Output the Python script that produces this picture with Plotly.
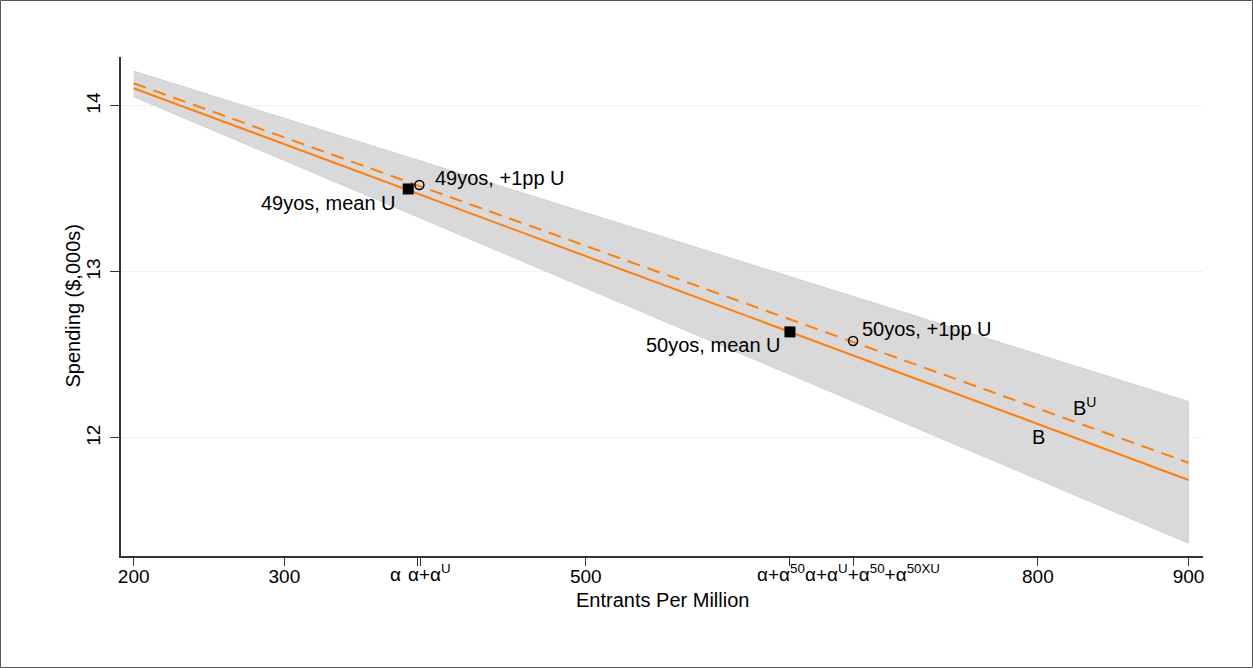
import plotly.graph_objects as go

# ---- data ----
fit_x = [200, 900]
band_hi = [14.21, 12.22]
band_lo = [14.056, 11.366]
fit_mean_u = [14.107, 11.747]      # B
fit_plus_u = [14.137, 11.851]      # B^U

mean_pts_x = [382.2, 635.5]
mean_pts_y = [13.50, 12.639]
mean_pts_lbl = ["49yos, mean U", "50yos, mean U"]
plus_pts_x = [389.6, 677.4]
plus_pts_y = [13.524, 12.584]
plus_pts_lbl = ["49yos, +1pp U", "50yos, +1pp U"]

num_ticks = [200, 300, 500, 800, 900]
num_tick_text = ["200", "300", "500", "800", "900"]
alpha_ticks = [388.3, 390.1, 635.0, 677.7]
alpha_tick_text = ["α", "α+α<sup>U</sup>", "α+α<sup>50</sup>",
                   "α+α<sup>U</sup>+α<sup>50</sup>+α<sup>50XU</sup>"]
alpha_label_x = [373.5, 380.8, 612.3, 644.2]
alpha_label_anchor = ["center", "left", "left", "left"]

y_ticks = [12, 13, 14]

FONT = "Liberation Sans, Arial, Helvetica, sans-serif"
ORANGE = "#ff7f0e"

W, H = 1253, 668
L, R, T, B = 121, 50, 57, 112
PW, PH = W - L - R, H - T - B

fig = go.Figure()

# confidence band
fig.add_trace(go.Scatter(
    x=fit_x + fit_x[::-1], y=band_hi + band_lo[::-1],
    fill="toself", fillcolor="#d9d9d9", mode="lines",
    line=dict(color="#d2d2d2", width=1), hoverinfo="skip", showlegend=False))

fig.add_trace(go.Scatter(x=fit_x, y=fit_mean_u, mode="lines",
                         line=dict(color=ORANGE, width=2), showlegend=False))
fig.add_trace(go.Scatter(x=fit_x, y=fit_plus_u, mode="lines",
                         line=dict(color=ORANGE, width=2, dash="13px,8px"),
                         showlegend=False))

fig.add_trace(go.Scatter(x=mean_pts_x, y=mean_pts_y, mode="markers",
                         marker=dict(symbol="square", size=11, color="black"),
                         showlegend=False))
fig.add_trace(go.Scatter(x=plus_pts_x, y=plus_pts_y, mode="markers",
                         marker=dict(symbol="circle-open", size=9, color="black",
                                     line=dict(width=1.5, color="black")),
                         showlegend=False))

annots = []
tf = dict(family=FONT, size=20, color="black")
# point labels
annots.append(dict(x=375.4, y=13.416, text=mean_pts_lbl[0], xanchor="right", yanchor="middle"))
annots.append(dict(x=631.0, y=12.560, text=mean_pts_lbl[1], xanchor="right", yanchor="middle"))
annots.append(dict(x=398.7, y=13.566, text=plus_pts_lbl[0], xanchor="left", yanchor="middle"))
annots.append(dict(x=682.0, y=12.657, text=plus_pts_lbl[1], xanchor="left", yanchor="middle"))
annots.append(dict(x=800.3, y=12.003, text="B", xanchor="center", yanchor="middle"))
annots.append(dict(x=821.8, y=12.175, text="B<sup>U</sup>", xanchor="left", yanchor="bottom",
                   yshift=-12))
for a in annots:
    a.update(xref="x", yref="y", showarrow=False, font=tf)

# alpha tick labels
for xv, txt, anc in zip(alpha_label_x, alpha_tick_text, alpha_label_anchor):
    annots.append(dict(x=xv, xref="x", y=0, yref="paper", text=txt, xanchor=anc,
                       yanchor="bottom", yshift=-31, showarrow=False,
                       font=dict(family=FONT, size=19, color="black")))

# axis titles
annots.append(dict(x=0.5, xref="paper", y=0, yref="paper", yshift=-44,
                   text="Entrants Per Million", xanchor="center", yanchor="middle",
                   showarrow=False, font=dict(family=FONT, size=20, color="black")))
annots.append(dict(x=0, xref="paper", xshift=-49, y=0.5, yref="paper",
                   text="Spending ($,000s)", textangle=-90, xanchor="center",
                   yanchor="middle", showarrow=False,
                   font=dict(family=FONT, size=20, color="black")))

# outer frame
def px_x(p):
    return (p - L) / PW
def px_y(p):
    return 1 - (p - T) / PH

shapes = [dict(type="rect", xref="paper", yref="paper",
               x0=px_x(0.5), x1=px_x(W - 0.5), y0=px_y(H - 0.5), y1=px_y(0.5),
               line=dict(color="#555555", width=1), fillcolor="rgba(0,0,0,0)")]

fig.update_layout(
    width=W, height=H, margin=dict(l=L, r=R, t=T, b=B, autoexpand=False),
    paper_bgcolor="white", plot_bgcolor="white",
    font=dict(family=FONT, size=19, color="black"),
    annotations=annots, shapes=shapes, showlegend=False,
    xaxis=dict(range=[191.6, 909.6], tickmode="array",
               tickvals=num_ticks + alpha_ticks,
               ticktext=num_tick_text + [""] * len(alpha_ticks),
               ticks="outside", ticklen=8, tickwidth=1.3, tickcolor="#333333",
               showline=True, linecolor="#333333", linewidth=1.5,
               showgrid=False, zeroline=False, ticklabelstandoff=-6,
               tickfont=dict(family=FONT, size=19, color="black")),
    yaxis=dict(range=[11.289, 14.295], tickmode="array", tickvals=y_ticks,
               ticks="outside", ticklen=9, tickwidth=1.3, tickcolor="#333333",
               showline=True, linecolor="#333333", linewidth=1.5,
               showgrid=True, gridcolor="#eaf2f3", gridwidth=1,
               zeroline=False, tickangle=-90, ticklabelstandoff=3,
               tickfont=dict(family=FONT, size=19, color="black")),
)

fig.write_html("out.html", config={"displayModeBar": False},
               post_script="document.body.style.margin='0';document.body.style.overflow='hidden';")
